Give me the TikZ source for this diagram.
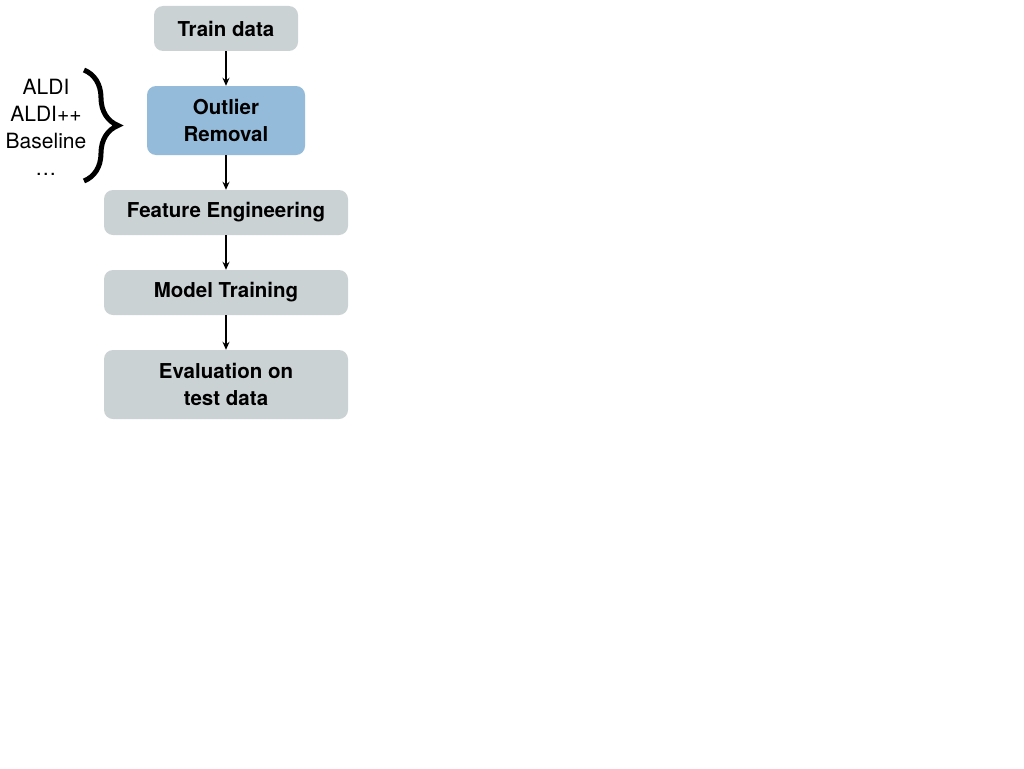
\documentclass[tikz,border=0pt]{standalone}
\usepackage{fontspec}
\setmainfont{TeX Gyre Heros}
\usetikzlibrary{arrows.meta,decorations.pathreplacing}
\definecolor{boxgray}{HTML}{CBD2D4}
\definecolor{boxblue}{HTML}{94BBDA}
\begin{document}
\begin{tikzpicture}[x=1pt,y=-1pt,
  stepbox/.style={rounded corners=9pt, fill=boxgray, align=center, font=\fontsize{20.5}{27}\selectfont\bfseries, inner sep=0pt},
  conn/.style={-{Stealth[length=8pt,width=7pt]}, line width=1.4pt, black}]
\useasboundingbox (0,0) rectangle (1024,768);
\node[stepbox, minimum width=144pt, minimum height=45pt] (train) at (226,28.5) {Train data};
\node[stepbox, fill=boxblue, minimum width=158pt, minimum height=69pt] (outlier) at (226,120.5) {Outlier\\Removal};
\node[stepbox, minimum width=244pt, minimum height=45pt] (feat) at (226,212.5) {Feature Engineering};
\node[stepbox, minimum width=244pt, minimum height=45pt] (model) at (226,292.5) {Model Training};
\node[stepbox, minimum width=244pt, minimum height=69pt] (eval) at (226,384.5) {Evaluation on\\test data};
\draw[conn] (train) -- (outlier);
\draw[conn] (outlier) -- (feat);
\draw[conn] (feat) -- (model);
\draw[conn] (model) -- (eval);
\node[align=center, font=\fontsize{21}{27}\selectfont, inner sep=0pt] (methods) at (46,127) {ALDI\\ALDI++\\Baseline\\\ldots};
\coordinate (bt) at (84,70);
\coordinate (bb) at (84,181);
\draw[line width=5pt, decorate, decoration={brace, amplitude=34pt, aspect=0.5}] (bt) -- (bb);
\end{tikzpicture}
\end{document}
